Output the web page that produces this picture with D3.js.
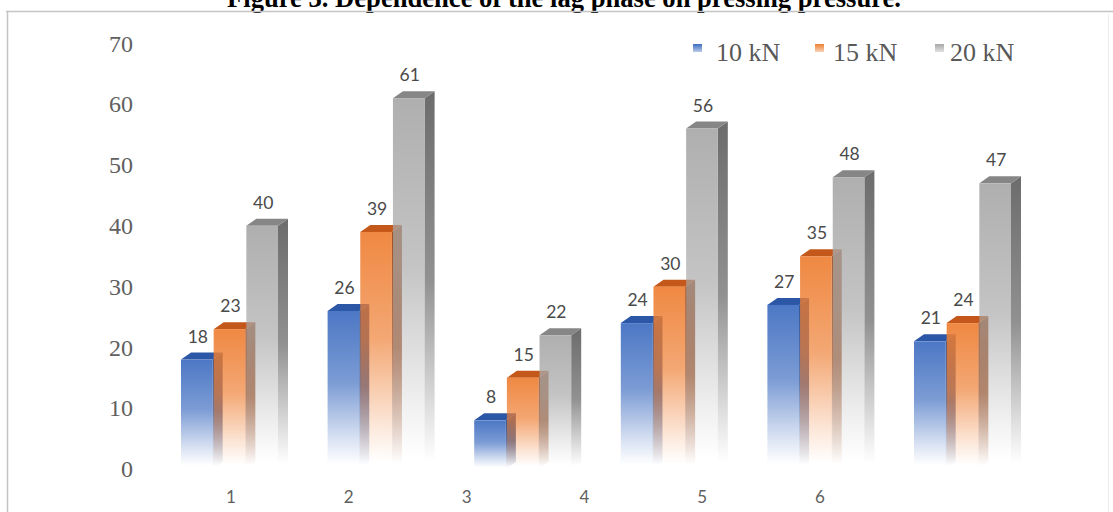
<!DOCTYPE html>
<html>
<head>
<meta charset="utf-8">
<script src="https://cdn.jsdelivr.net/npm/d3@7"></script>
<style>
  html, body { margin: 0; padding: 0; background: #ffffff; }
  svg { display: block; }
</style>
</head>
<body>
<svg id="chart" width="1113" height="512"></svg>
<script>
// Samples 1-6, lag phase at three pressing forces
const categories = ["1", "2", "3", "4", "5", "6"];
const seriesNames = ["10 kN", "15 kN", "20 kN"];
const values10kN = [18, 26, 8, 24, 27, 21];
const values15kN = [23, 39, 15, 30, 35, 24];
const values20kN = [40, 61, 22, 56, 48, 47];
const yTicks = [0, 10, 20, 30, 40, 50, 60, 70];
const titleText = "Figure 3. Dependence of the lag phase on pressing pressure.";

const seriesValues = [values10kN, values15kN, values20kN];

// Face colours for each series: front, top, side
const palette = [
  { front: "#3d6cc0", top: "#2c56a6", side: "#24468a" },
  { front: "#ee7e32", top: "#c4581a", side: "#9c4a1c" },
  { front: "#a8a8a8", top: "#868686", side: "#6c6c6c" }
];

const svg = d3.select("#chart");
const defs = svg.append("defs");

// Vertical fades: each bar face dissolves into the floor
palette.forEach((c, i) => {
  const gf = defs.append("linearGradient")
    .attr("id", "front" + i).attr("x1", 0).attr("y1", 0).attr("x2", 0).attr("y2", 1);
  [[0, 0.92], [0.45, 0.68], [0.82, 0.18], [0.97, 0]].forEach(([o, a]) =>
    gf.append("stop").attr("offset", o).attr("stop-color", c.front).attr("stop-opacity", a));
  const gs = defs.append("linearGradient")
    .attr("id", "side" + i).attr("x1", 0).attr("y1", 0).attr("x2", 0).attr("y2", 1);
  [[0, 1], [0.5, 0.75], [0.85, 0.2], [0.98, 0]].forEach(([o, a]) =>
    gs.append("stop").attr("offset", o).attr("stop-color", c.side).attr("stop-opacity", a));
  const gl = defs.append("linearGradient")
    .attr("id", "legend" + i).attr("x1", 0).attr("y1", 0).attr("x2", 0).attr("y2", 1);
  [[0, 1], [1, 0.35]].forEach(([o, a]) =>
    gl.append("stop").attr("offset", o).attr("stop-color", c.front).attr("stop-opacity", a));
});

// Title (runs off the top edge) and frame lines
svg.append("text")
  .attr("x", 564).attr("y", 6.5)
  .attr("text-anchor", "middle")
  .style("font-family", "'Liberation Serif', 'Times New Roman', serif")
  .style("font-weight", "bold")
  .style("font-size", "26.6px")
  .attr("fill", "#000")
  .text(titleText);

svg.append("line").attr("x1", 6).attr("x2", 1113).attr("y1", 11.5).attr("y2", 11.5)
  .attr("stroke", "#c4c4c4").attr("stroke-width", 1.5);
svg.append("line").attr("x1", 7.5).attr("x2", 7.5).attr("y1", 11).attr("y2", 512)
  .attr("stroke", "#c4c4c4").attr("stroke-width", 1.5);
svg.append("line").attr("x1", 1108.5).attr("x2", 1108.5).attr("y1", 14).attr("y2", 512)
  .attr("stroke", "#ececec").attr("stroke-width", 1);

// Scales
const y = d3.scaleLinear().domain([0, 70]).range([469, 43.5]);

const x0 = d3.scaleBand()
  .domain(categories)
  .range([156.7, 1036.3])
  .paddingInner(0.3315)
  .paddingOuter(0.16575);

const x1 = d3.scaleBand()
  .domain(seriesNames)
  .range([0, x0.bandwidth()])
  .padding(0);

// Floor labels sit on the nearer (perspective) edge of the floor
const xFloor = d3.scaleBand()
  .domain(categories)
  .range([172.1, 878.9])
  .padding(0);

const depthX = 10, depthY = 7;

// Y axis labels
const yAxis = d3.axisLeft(y).tickValues(yTicks).tickSize(0).tickPadding(0).tickFormat(d3.format("d"));
const gy = svg.append("g").attr("transform", "translate(133,0)").call(yAxis);
gy.select(".domain").remove();
gy.selectAll("text")
  .style("font-family", "'Liberation Serif', 'Times New Roman', serif")
  .style("font-size", "24px")
  .attr("fill", "#606060");

// X axis labels
const xAxis = d3.axisBottom(xFloor).tickSize(0).tickPadding(0);
const gx = svg.append("g").attr("transform", "translate(0,491)").call(xAxis);
gx.select(".domain").remove();
gx.selectAll("text")
  .style("font-family", "Lato, 'Liberation Sans', sans-serif")
  .style("font-size", "17px")
  .attr("fill", "#606060");

// Bars, drawn left to right so each front face sits over its neighbour's side
const bars = [];
categories.forEach((cat, ci) => {
  seriesNames.forEach((s, si) => {
    bars.push({ cat, si, series: s, value: seriesValues[si][ci] });
  });
});

const barW = x1.bandwidth() - 1;
const gBars = svg.append("g");
bars.forEach(b => {
  const x = x0(b.cat) + x1(b.series);
  const yt = y(b.value);
  const yb = y(0);
  const g = gBars.append("g");
  // side face
  g.append("path")
    .attr("d", `M${x + barW},${yt} L${x + barW + depthX},${yt - depthY} L${x + barW + depthX},${yb - depthY} L${x + barW},${yb} Z`)
    .attr("fill", `url(#side${b.si})`);
  // top face
  g.append("path")
    .attr("d", `M${x},${yt} L${x + barW},${yt} L${x + barW + depthX},${yt - depthY} L${x + depthX},${yt - depthY} Z`)
    .attr("fill", palette[b.si].top);
  // front face
  g.append("rect")
    .attr("x", x).attr("y", yt)
    .attr("width", barW).attr("height", yb - yt)
    .attr("fill", `url(#front${b.si})`);
  // value label
  g.append("text")
    .attr("x", x + barW / 2 + 1)
    .attr("y", yt - depthY - 10)
    .attr("text-anchor", "middle")
    .style("font-family", "Lato, 'Liberation Sans', sans-serif")
    .style("font-size", "17.5px")
    .attr("fill", "#4a4a4a")
    .text(b.value);
});

// Legend
const legendSquareX = [693, 815, 935];
const legendTextX = [716, 833, 950];
const legend = svg.append("g");
seriesNames.forEach((s, i) => {
  legend.append("rect")
    .attr("x", legendSquareX[i]).attr("y", 44)
    .attr("width", 9).attr("height", 8)
    .attr("fill", `url(#legend${i})`);
  legend.append("text")
    .attr("x", legendTextX[i]).attr("y", 61)
    .style("font-family", "'Liberation Serif', 'Times New Roman', serif")
    .style("font-size", "26px")
    .attr("fill", "#595959")
    .text(s);
});
</script>
</body>
</html>
